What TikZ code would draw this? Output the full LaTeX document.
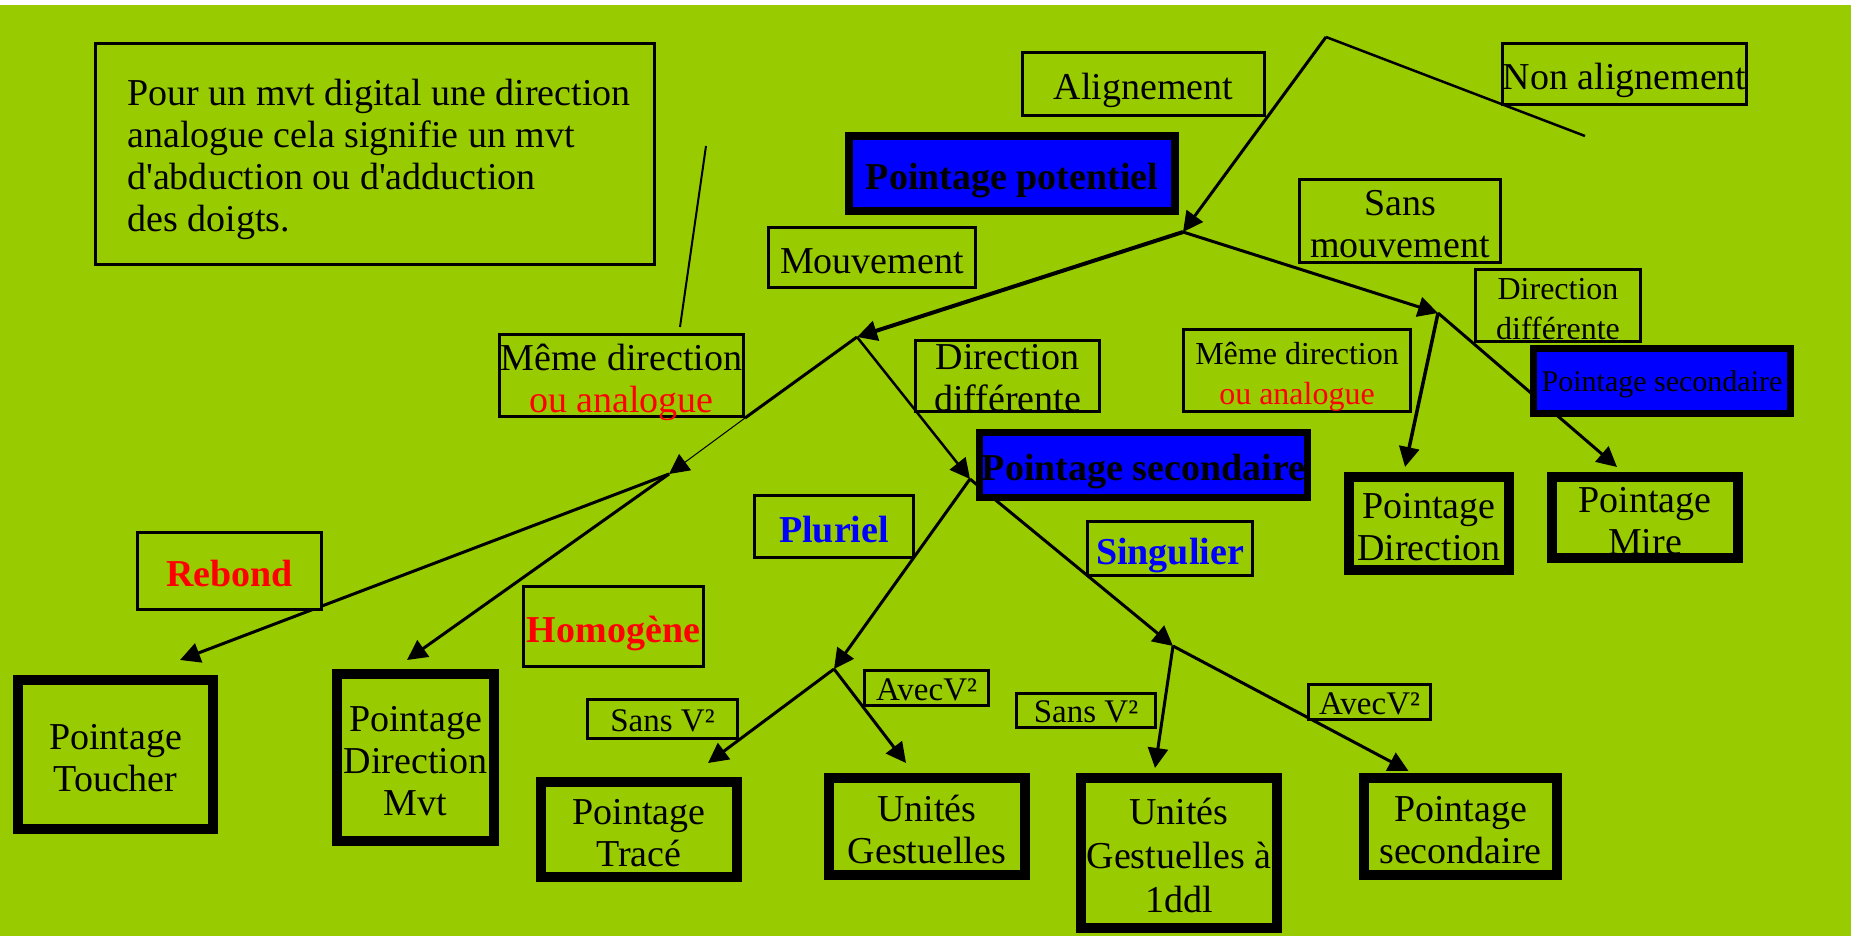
\documentclass[tikz,border=0pt]{standalone}
\usepackage{fontspec}
\setmainfont{Liberation Serif}
\usetikzlibrary{arrows.meta,calc}
\definecolor{bggreen}{RGB}{153,204,0}
\definecolor{pblue}{RGB}{0,0,255}
\definecolor{pred}{RGB}{255,0,0}
\pgfdeclarelayer{back}
\pgfdeclarelayer{edges}
\pgfsetlayers{back,edges,main}
\tikzset{
  big/.style={font=\fontsize{19}{21}\selectfont, text height=15.8pt, text depth=0pt},
  big2/.style={big, text height=36.8pt},
  big3/.style={big, text height=57.8pt},
  big4/.style={big, text height=77.3pt},
  bfbig/.style={font=\bfseries\fontsize{19}{21}\selectfont, text height=15.8pt, text depth=0pt},
  small2/.style={font=\fontsize{16}{20}\selectfont, text height=33.5pt, text depth=0pt},
  vsmall/.style={font=\fontsize{16.5}{20}\selectfont, text height=12.4pt, text depth=0pt},
  tiny15/.style={font=\fontsize{15}{18}\selectfont, text height=10.6pt, text depth=0pt},
  thin box/.style 2 args={draw, line width=1.4pt, fill=bggreen, inner sep=0pt, align=center,
    minimum width={(#1-2.8)*0.5pt}, minimum height={(#2-2.8)*0.5pt}},
  thick box/.style 2 args={draw, line width=5pt, fill=bggreen, inner sep=0pt, align=center,
    minimum width={(#1-10)*0.5pt}, minimum height={(#2-10)*0.5pt}},
  blue box/.style 2 args={draw, line width=3.5pt, fill=pblue, inner sep=0pt, align=center,
    minimum width={(#1-7)*0.5pt}, minimum height={(#2-7)*0.5pt}},
  conn/.style={line width=1.5pt, -{Triangle[length=10pt,width=10pt]}},
  plainline/.style={line width=1.25pt},
}
\newcommand{\ind}{\hspace*{4pt}}
\begin{document}
\begin{tikzpicture}[x=0.5pt, y=-0.5pt]
\useasboundingbox (0,0) rectangle (1851,936);
\begin{pgfonlayer}{back}
  \fill[white] (0,0) rectangle (1851,936);
  \fill[bggreen] (0,5) rectangle (1851,936);
\end{pgfonlayer}

% nodes
\node[thin box={562}{224}, big4, align=left, line width=1.2pt] (note) at (375,154)
  {\ind Pour un mvt digital une direction\\\ind analogue cela signifie un mvt\\\ind d\textquotesingle abduction ou d\textquotesingle adduction\\\ind des doigts.};
\node[thin box={245}{66}, big] (align) at (1143.5,84) {Alignement};
\node[thin box={247}{64}, big] (nonalign) at (1624.5,74) {Non alignement};
\node[draw, line width=4pt, fill=pblue, inner sep=0pt, minimum width={(334-8)*0.5pt}, minimum height={(83-8)*0.5pt}, bfbig] (potentiel) at (1012,173.5) {Pointage potentiel};
\node[thin box={210}{63}, big] (mouv) at (872,257.5) {Mouvement};
\node[thin box={204}{86}, big2] (sansmouv) at (1400,221) {Sans\\mouvement};
\node[thin box={168}{75}, small2] (dirdiffR) at (1558,305.5) {Direction\\différente};
\node[thin box={230}{85}, small2] (memeR) at (1297,370.5) {Même direction\\\textcolor{pred}{ou analogue}};
\node[blue box={264}{72}, tiny15] (psR) at (1662,381) {Pointage secondaire};
\node[thick box={170}{103}, big2] (pdirR) at (1429,523.5) {Pointage\\Direction};
\node[thick box={196}{91}, big2] (mire) at (1645,517.5) {Pointage\\Mire};
\node[thin box={247}{85}, big2] (memeL) at (621.5,375.5) {Même direction\\\textcolor{pred}{ou analogue}};
\node[thin box={187}{74}, big2, text height=35.5pt] (dirdiffM) at (1007.5,376) {Direction\\différente};
\node[blue box={335}{72}, bfbig] (psM) at (1143.5,465) {Pointage secondaire};
\node[thin box={162}{65}, bfbig, text=pblue] (pluriel) at (834,526.5) {Pluriel};
\node[thin box={168}{57}, bfbig, text=pblue] (singulier) at (1170,548.5) {Singulier};
\node[thin box={187}{80}, bfbig, text=pred] (rebond) at (229.5,571) {Rebond};
\node[thin box={183}{83}, bfbig, text=pred] (homogene) at (613.5,626.5) {Homogène};
\node[thick box={205}{159}, big2] (toucher) at (115.5,754.5) {Pointage\\Toucher};
\node[thick box={167}{177}, big3] (dirmvt) at (415.5,757.5) {Pointage\\Direction\\Mvt};
\node[thin box={153}{42}, vsmall] (sansvL) at (662.5,719) {Sans V²};
\node[thin box={127}{38}, vsmall] (avecvL) at (926.5,688) {AvecV²};
\node[thick box={206}{105}, big2] (trace) at (639,829.5) {Pointage\\Tracé};
\node[thick box={206}{107}, big2] (unites) at (927,826.5) {Unités\\Gestuelles};
\node[thin box={142}{37}, vsmall] (sansvR) at (1086,710.5) {Sans V²};
\node[thin box={125}{38}, vsmall] (avecvR) at (1369.5,702) {AvecV²};
\node[thick box={206}{160}, big3, font=\fontsize{19}{22}\selectfont, text height=59.8pt] (unites1) at (1179,853) {Unités\\Gestuelles à\\1ddl};
\node[thick box={203}{107}, big2] (psLow) at (1460.5,826.5) {Pointage\\secondaire};

% junctions
\coordinate (apex) at (1326,37);
\coordinate (naend) at (1585,136);
\coordinate (J0) at ([shift={(4,17)}]potentiel.south east);
\coordinate (J1) at (857,337);
\coordinate (J2) at (1438,313);
\coordinate (J3) at ([shift={(-6,14)}]psM.west);
\coordinate (J4) at (1173,646);
\coordinate (J5) at (669,474);
\coordinate (J6) at (834,669);
\coordinate (cA) at (706,146);
\coordinate (cB) at (680,327);

\begin{pgfonlayer}{edges}
  \draw[conn] (apex) -- (J0);
  \draw[plainline] (apex) -- (naend);
  \draw[conn, line width=2pt] (J0) -- (J1);
  \draw[conn] (J0) -- (J2);
  \draw[conn, line width=1.75pt] (J2) -- ([shift={(-24,-5)}]pdirR.north);
  \draw[conn] (J2) -- ([shift={(-28,-5)}]mire.north);
  \draw[line width=1.5pt] (J1) -- (memeL.south east);
  \draw[conn, line width=0.5pt] (memeL.south east) -- (J5);
  \draw[conn, line width=1.25pt] (J1) -- (J3);
  \draw[conn] (J5) -- ([shift={(64.5,-15)}]toucher.north);
  \draw[conn] (J5) -- ([shift={(-8.5,-9)}]dirmvt.north);
  \draw[conn] (J3) -- (J6);
  \draw[conn] (J6) -- ([shift={(69,-14)}]trace.north);
  \draw[conn] (J6) -- ([shift={(-21,-10)}]unites.north);
  \draw[conn] (J3) -- (J4);
  \draw[conn] (J4) -- ([shift={(-24,-5)}]unites1.north);
  \draw[conn] (J4) -- ([shift={(-52,-2)}]psLow.north);
  \draw[line width=1pt] (cA) -- (cB);
\end{pgfonlayer}
\end{tikzpicture}
\end{document}
